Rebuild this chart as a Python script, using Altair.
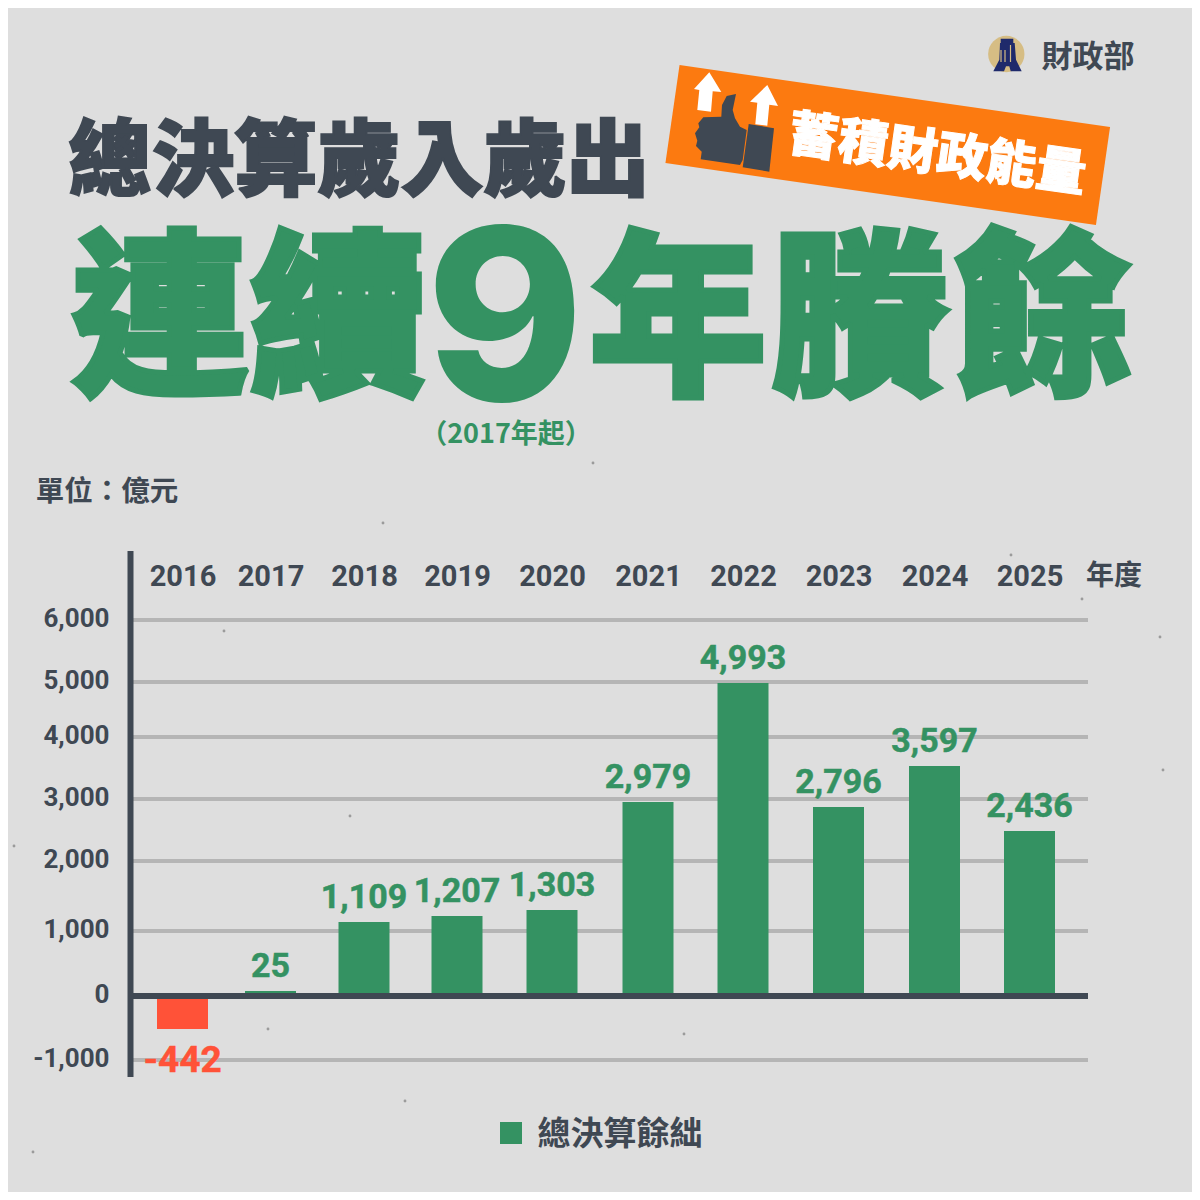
import altair as alt
import pandas as pd

# ---- data ----
years = [2016, 2017, 2018, 2019, 2020, 2021, 2022, 2023, 2024, 2025]
surplus = [-442, 25, 1109, 1207, 1303, 2979, 4993, 2796, 3597, 2436]
ticks = [-1000, 0, 1000, 2000, 3000, 4000, 5000, 6000]
grid_ticks = [-1000, 1000, 2000, 3000, 4000, 5000, 6000]

# the original graphic's spacing is hand-set, so both scales are piecewise
year_pos = [174.5, 262.5, 356, 449, 544, 640, 735, 830.5, 926.5, 1021.5]
y_domain = [-1000, -442, 0, 25, 1000, 1109, 1207, 1303, 2000, 2436, 2796, 2979, 3000, 3597, 4000, 4993, 5000, 6000]
y_range = [1052, 1021, 988, 983, 923, 914, 908, 902, 853, 823, 799, 794, 791, 758, 729, 675, 674, 612]

BG, DARK, GREEN, RED, ORANGE, GRID = "#dedede", "#3f4853", "#349262", "#ff5238", "#fc7a10", "#b5b5b5"
CJK = "Noto Sans CJK TC"
NUM = "Roboto"
OFF = 8  # page margin

df = pd.DataFrame({"year": years, "v": surplus})
pos = df[df.v >= 0]
neg = df[df.v < 0]
grid_df = pd.DataFrame({"t": grid_ticks})
zero_df = pd.DataFrame({"t": [0]})

xs = alt.Scale(domain=years, range=year_pos, nice=False, zero=False, padding=0)
ys = alt.Scale(domain=y_domain, range=y_range, nice=False, zero=False, padding=0)

x_axis = alt.Axis(
    orient="top", values=years, format="d", domain=False, ticks=False, grid=False, offset=-568, title=None,
    labelFont=NUM, labelFontWeight="bold", labelFontSize=29, labelColor=DARK, labelPadding=0,
    labelBaseline="middle", labelAlign="center", labelOverlap=False, labelFlush=False)
y_axis = alt.Axis(
    orient="left", values=ticks, domain=False, ticks=False, grid=False, offset=-101, title=None,
    labelFont=NUM, labelFontWeight="bold", labelFontSize=26, labelColor=DARK, labelPadding=0,
    labelOffset=-2, labelOverlap=False, labelFlush=False, labelBaseline="middle",
    labelExpr="replace(format(datum.value, ','), '\u2212', '-')")


def px(v):
    return alt.value(v - OFF)


def label(text, x, y, size, color=DARK, stroke=0.0, angle=0, font=CJK, weight="bold", align="center"):
    kw = dict(text=text, fontSize=size, color=color, font=font, fontWeight=weight,
              align=align, baseline="middle", angle=angle)
    if stroke:
        kw.update(stroke=color, strokeWidth=stroke, strokeJoin="miter", strokeMiterLimit=2)
    return alt.Chart().mark_text(**kw).encode(x=px(x), y=px(y))


def shape(path, color):
    # path in page pixels; size 4 makes Vega's symbol scale 1
    return alt.Chart().mark_point(shape=path, size=4, filled=True, fill=color, color=color,
                                  opacity=1, strokeWidth=0).encode(x=px(0), y=px(0))


def poly(points):
    return "M" + "L".join(f"{x:.1f},{y:.1f}" for x, y in points) + "Z"


def zoomed(points):
    return poly([(660 + a / 3, 20 + b / 3) for a, b in points])


def seal_poly(points):
    return poly([(980 + a / 3, 28 + b / 3) for a, b in points])


def seg(x, y, x2, y2, color, width):
    return alt.Chart().mark_rule(color=color, strokeWidth=width).encode(
        x=px(x), x2=px(x2), y=px(y), y2=px(y2))


# paper flecks
flecks = [(224, 631), (383, 523), (405, 1101), (33, 1152), (268, 1029), (1082, 599), (1160, 637),
          (1011, 555), (684, 1034), (1163, 770), (14, 846), (350, 816), (593, 463)]
fleck_layers = [alt.Chart().mark_circle(size=8, color="#8a8a8a", opacity=0.8).encode(x=px(a), y=px(b))
                for a, b in flecks]

X = alt.X("year:Q", scale=xs, axis=x_axis)
Y = alt.Y("v:Q", scale=ys, axis=y_axis)
YT = alt.Y("t:Q", scale=ys, axis=y_axis)

grid = alt.Chart(grid_df).mark_rule(color=GRID, strokeWidth=4).encode(x=px(131), x2=px(1088), y=YT)

bars = alt.Chart(df).mark_bar(size=51).encode(
    x=X, y=Y, y2=alt.datum(0),
    color=alt.condition("datum.v < 0", alt.value(RED), alt.value(GREEN)),
)

zero = alt.Chart(zero_df).mark_rule(color=DARK, strokeWidth=6).encode(x=px(128), x2=px(1088), y=YT)

yline = seg(130.5, 551, 130.5, 1077, DARK, 6)

pos_labels = alt.Chart(pos).mark_text(font=NUM, fontWeight="bold", fontSize=34, color=GREEN, stroke=GREEN,
                                      strokeWidth=0.5, baseline="middle", dy=-24).encode(
    x=X, y=Y, text=alt.Text("v:Q", format=","))

neg_labels = alt.Chart(neg).transform_calculate(label="'-' + abs(datum.v)").mark_text(
    font=NUM, fontWeight="bold", fontSize=37, color=RED, stroke=RED, strokeWidth=0.5,
    baseline="middle", dy=32).encode(x=X, y=Y, text=alt.Text("label:N"))

# headline
big = [("連", 160, 178), ("續", 338, 178), ("年", 678, 178), ("賸", 860, 178), ("餘", 1043, 178)]
big_layers = [label(c, x, 328, s, GREEN, stroke=5, weight=900) for c, x, s in big]
nine = label("9", 505, 329, 238, GREEN, font="Inter", weight=800)
headline = label("總決算歲入歲出", 359, 164, 83, DARK, stroke=2, weight=900)
since = label("（2017年起）", 506, 435, 27, GREEN)

# banner
banner = seg(672.5, 114, 1103, 176, ORANGE, 99)
banner_text = label("蓄積財政能量", 937, 156, 50, "#ffffff", stroke=1, angle=8, weight=900)
arrow1 = shape(zoomed([(148, 157), (184, 216), (158, 214), (153, 275), (112, 270), (118, 210), (102, 207)]), "#ffffff")
arrow2 = shape(zoomed([(322, 195), (354, 258), (328, 254), (322, 317), (286, 313), (292, 248), (270, 245)]), "#ffffff")
thumb = shape(zoomed([(228, 222), (200, 228), (186, 255), (184, 290), (130, 292), (115, 310), (118, 322),
                      (105, 340), (112, 362), (108, 378), (125, 395), (122, 418), (240, 435), (248, 420),
                      (260, 330), (240, 320), (225, 295), (218, 270)]), DARK)
cuff = shape(zoomed([(266, 312), (342, 325), (328, 455), (248, 442)]), DARK)

# ministry mark
seal = alt.Chart().mark_circle(size=1320, color="#d6bd84", opacity=1).encode(x=px(1006.3), y=px(54))
tower = shape(seal_poly([(62, 32), (100, 32), (100, 45), (104, 45), (108, 95), (125, 130), (92, 130), (88, 115),
                         (78, 115), (72, 130), (40, 130), (58, 95), (60, 45), (62, 45)]), "#1f2a6b")
tower_marks = [seg(1010.5, 45, 1010.5, 62, "#d6bd84", 1.2), seg(1001, 50, 1001, 62, "#d6bd84", 1.2),
               seg(1005, 50, 1005, 62, "#d6bd84", 1.2)]
ministry = label("財政部", 1088, 58, 31, DARK)

# side texts
unit = label("單位：億元", 107, 492, 28.5, DARK)
nian = label("年度", 1114, 577, 28, DARK)
legend_box = alt.Chart().mark_rect(color=GREEN).encode(x=px(500), x2=px(522), y=px(1122), y2=px(1144))
legend_text = label("總決算餘絀", 620, 1135, 33, DARK)

chart = alt.layer(
    *fleck_layers, grid, bars, zero, yline, pos_labels, neg_labels,
    headline, *big_layers, nine, since,
    banner, arrow1, arrow2, thumb, cuff, banner_text,
    seal, tower, *tower_marks, ministry, unit, nian, legend_box, legend_text,
).properties(width=1184, height=1184, padding=0, autosize="none", background=BG).configure_view(strokeWidth=0)

chart.save("out.html", embed_options={"renderer": "svg", "actions": False})
